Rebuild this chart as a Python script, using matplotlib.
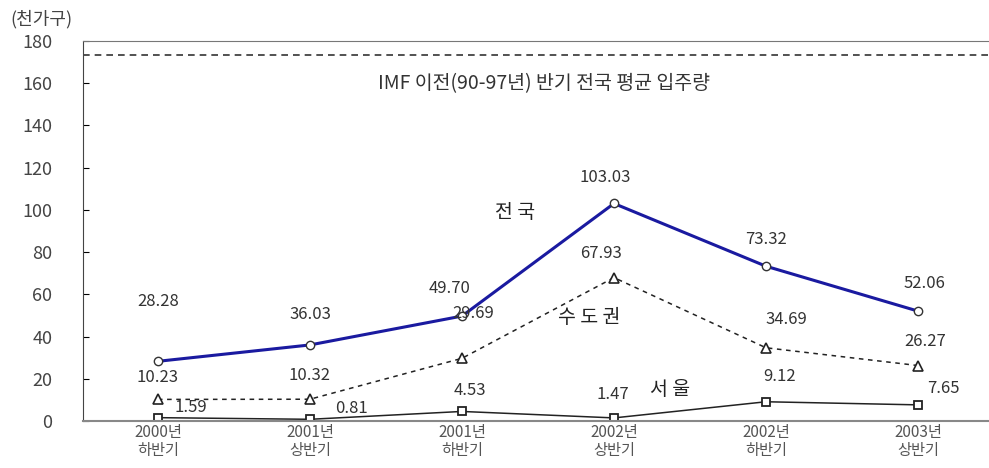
import matplotlib.pyplot as plt

plt.rcParams['font.family'] = ['Noto Sans CJK KR', 'DejaVu Sans']

# data
periods = ['2000년\n하반기', '2001년\n상반기', '2001년\n하반기',
           '2002년\n상반기', '2002년\n하반기', '2003년\n상반기']
national = [28.28, 36.03, 49.70, 103.03, 73.32, 52.06]
capital = [10.23, 10.32, 29.69, 67.93, 34.69, 26.27]
seoul = [1.59, 0.81, 4.53, 1.47, 9.12, 7.65]
imf_avg = 173.4
yticks = [0, 20, 40, 60, 80, 100, 120, 140, 160, 180]

# label offsets (points) for value labels
nat_off = [(0, 43), (0, 22), (-9, 20), (-6, 19), (0, 19), (5, 20)]
cap_off = [(0, 16), (0, 17), (8, 32), (-9, 17), (15, 20), (5, 17)]
seo_off = [(24, 7), (30, 8), (6, 15), (-1, 17), (10, 18), (18, 12)]

fig = plt.figure(figsize=(9.89, 4.68), dpi=100)
ax = fig.add_axes([0.0839, 0.1004, 0.9161, 0.8120])

x = list(range(len(periods)))

ax.axhline(imf_avg, color='#333333', lw=1.2, ls=(0, (4, 3)))
ax.text(2.54, 160, 'IMF 이전(90-97년) 반기 전국 평균 입주량',
        ha='center', va='center', fontsize=14, color='#333333')

ax.plot(x, national, color='#1a1aa0', lw=2.2, marker='o', ms=6,
        mfc='white', mec='#333333', mew=1)
ax.plot(x, capital, color='#222222', lw=1.1, ls=(0, (3, 3)), marker='^',
        ms=7, mfc='white', mec='#222222', mew=1.2)
ax.plot(x, seoul, color='#222222', lw=1.1, marker='s', ms=6,
        mfc='white', mec='#222222', mew=1.3)

for xi, v, off in zip(x, national, nat_off):
    ax.annotate(f'{v:.2f}', (xi, v), xytext=off, textcoords='offset points',
                ha='center', va='center', fontsize=12, color='#333333')
for xi, v, off in zip(x, capital, cap_off):
    ax.annotate(f'{v:.2f}', (xi, v), xytext=off, textcoords='offset points',
                ha='center', va='center', fontsize=12, color='#333333')
for xi, v, off in zip(x, seoul, seo_off):
    ax.annotate(f'{v:.2f}', (xi, v), xytext=off, textcoords='offset points',
                ha='center', va='center', fontsize=12, color='#333333')

# series names
ax.text(2.35, 99, '전 국', fontsize=14, color='#222222', ha='center', va='center')
ax.text(2.84, 49, '수 도 권', fontsize=14, color='#222222', ha='center', va='center')
ax.text(3.37, 15, '서 울', fontsize=14, color='#222222', ha='center', va='center')

ax.set_xlim(-0.493, 5.467)
ax.set_ylim(0, 180)
ax.set_xticks(x)
ax.set_xticklabels(periods, fontsize=11, color='#555555', linespacing=1.1)
ax.set_yticks(yticks)
ax.set_yticklabels([str(t) for t in yticks], fontsize=13, color='#444444')
ax.tick_params(axis='y', direction='in', length=4, pad=22)
ax.tick_params(axis='x', length=0, pad=2)

ax.spines['right'].set_visible(False)
ax.spines['top'].set_color('#777777')
ax.spines['left'].set_color('#444444')
ax.spines['bottom'].set_color('#888888')
ax.spines['bottom'].set_linewidth(1.5)

fig.text(0.01, 0.96, '(천가구)', fontsize=13, color='#444444', ha='left', va='center')

fig.savefig('out.png', dpi=100)
